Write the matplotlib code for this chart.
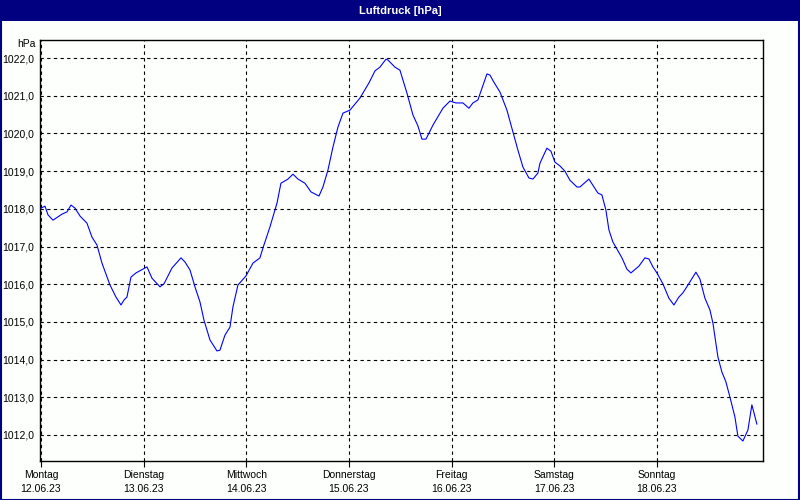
import matplotlib
matplotlib.use("Agg")
import matplotlib.pyplot as plt
from matplotlib.patches import Rectangle

# hours since Monday 12.06.23 00:00
hours = [0, 0.94, 1.64, 2.81, 4.91, 6.08, 7.01, 7.95, 9.12, 10.75, 11.92, 13.09, 14.26, 16.13,
         17.53, 18.70, 19.40, 20.10, 21.04, 22.21, 23.84, 24.78, 25.95, 27.82, 28.75, 30.62,
         32.73, 33.66, 34.83, 36.00, 37.17, 38.10, 39.51, 41.14, 41.84, 43.01, 44.18, 44.88,
         46.05, 47.92, 49.56, 51.19, 51.89, 53.53, 55.17, 56.10, 57.74, 58.91, 60.08, 61.71,
         63.12, 64.99, 65.92, 67.09, 68.26, 69.43, 70.60, 72.24, 74.57, 76.67, 78.08, 79.24,
         80.65, 81.11, 82.75, 83.92, 85.56, 86.96, 88.13, 89.06, 90.00, 91.63, 93.97, 95.61,
         97.01, 98.65, 100.05, 100.98, 102.15, 104.26, 104.96, 105.89, 107.30, 108.93, 110.33,
         111.50, 112.67, 114.07, 115.01, 116.18, 116.65, 118.28, 119.22, 120.15, 121.32, 122.49,
         123.66, 125.30, 126.00, 128.10, 130.20, 131.14, 132.07, 132.78, 133.71, 135.82, 136.99,
         137.92, 139.79, 141.19, 142.13, 143.06, 144.00, 145.40, 146.80, 147.97, 149.14, 150.07,
         151.71, 153.11, 154.05, 155.22, 156.39, 157.09, 158.26, 159.19, 160.13, 161.06, 162.23,
         162.93, 164.10, 165.27, 166.20, 167.37]
pressure = [1018.02, 1018.07, 1017.84, 1017.70, 1017.86, 1017.92, 1018.10, 1018.02, 1017.81,
            1017.62, 1017.25, 1017.04, 1016.56, 1015.98, 1015.66, 1015.45, 1015.58, 1015.66,
            1016.19, 1016.30, 1016.40, 1016.46, 1016.16, 1015.93, 1016.01, 1016.43, 1016.70,
            1016.59, 1016.38, 1015.93, 1015.53, 1015.05, 1014.52, 1014.23, 1014.25, 1014.65,
            1014.86, 1015.40, 1015.98, 1016.22, 1016.56, 1016.70, 1016.96, 1017.52, 1018.15,
            1018.68, 1018.79, 1018.92, 1018.79, 1018.68, 1018.45, 1018.34, 1018.58, 1019.03,
            1019.64, 1020.17, 1020.54, 1020.62, 1020.94, 1021.34, 1021.66, 1021.76, 1021.97,
            1021.95, 1021.76, 1021.68, 1021.07, 1020.49, 1020.20, 1019.85, 1019.85, 1020.22,
            1020.67, 1020.86, 1020.81, 1020.81, 1020.67, 1020.81, 1020.89, 1021.58, 1021.55,
            1021.36, 1021.10, 1020.62, 1020.04, 1019.56, 1019.11, 1018.82, 1018.79, 1018.95,
            1019.21, 1019.61, 1019.53, 1019.24, 1019.14, 1019.00, 1018.76, 1018.58, 1018.58,
            1018.79, 1018.42, 1018.37, 1017.97, 1017.44, 1017.12, 1016.70, 1016.40, 1016.30,
            1016.48, 1016.70, 1016.67, 1016.46, 1016.30, 1016.01, 1015.63, 1015.45, 1015.66,
            1015.77, 1016.06, 1016.32, 1016.14, 1015.63, 1015.32, 1014.97, 1014.07, 1013.67,
            1013.41, 1013.01, 1012.48, 1011.97, 1011.84, 1012.13, 1012.80, 1012.29]

day_names = ["Montag", "Dienstag", "Mittwoch", "Donnerstag", "Freitag", "Samstag", "Sonntag"]
day_dates = ["12.06.23", "13.06.23", "14.06.23", "15.06.23", "16.06.23", "17.06.23", "18.06.23"]
day_ticks = [0, 24, 48, 72, 96, 120, 144]
y_ticks = [1012, 1013, 1014, 1015, 1016, 1017, 1018, 1019, 1020, 1021, 1022]

title = "Luftdruck [hPa]"
unit = "hPa"

plt.rcParams['font.family'] = ['Liberation Sans', 'DejaVu Sans']
W, H = 800, 500
bg = '#FCFFFC'
navy = '#000080'

fig = plt.figure(figsize=(W / 100, H / 100), dpi=100, facecolor=bg)

# title bar
fig.patches.append(Rectangle((0, 1 - 21 / H), 1, 21 / H, transform=fig.transFigure,
                             facecolor=navy, edgecolor='none', zorder=0))
fig.text(0.5, 1 - 10.5 / H, title, color='white', fontsize=8, fontweight='bold',
         ha='center', va='center')
# outer frame
fig.patches.append(Rectangle((0.5 / W, 0.5 / H), 1 - 1.5 / W, 1 - 1.5 / H, transform=fig.transFigure,
                             facecolor='none', edgecolor=navy, linewidth=1.5, zorder=5))

ax = fig.add_axes([40 / W, 1 - 461 / H, (763 - 40) / W, (461 - 40) / H])
ax.set_facecolor(bg)
ax.plot(hours, pressure, color='#0000FF', linewidth=0.8, zorder=3)

ax.set_xlim(-0.23, 168.8)
ax.set_ylim(1011.31, 1022.48)
ax.set_xticks(day_ticks)
ax.set_xticklabels([f"{n}\n{d}" for n, d in zip(day_names, day_dates)], fontsize=7.5,
                   linespacing=1.55)
ax.set_yticks(y_ticks)
ax.set_yticklabels([f"{v:.1f}".replace('.', ',') for v in y_ticks], fontsize=7.5)

ax.tick_params(axis='x', length=4, width=0.8, color='black', pad=2.5)
ax.tick_params(axis='y', length=0, pad=4)
ax.grid(True, color='black', linestyle=(0, (3, 3)), linewidth=0.8)
for s in ax.spines.values():
    s.set_color('black')
    s.set_linewidth(1.0)

fig.text(36 / W, 1 - 44 / H, unit, fontsize=7.5, ha='right', va='center')

fig.savefig('out.png', dpi=100, facecolor=bg)
